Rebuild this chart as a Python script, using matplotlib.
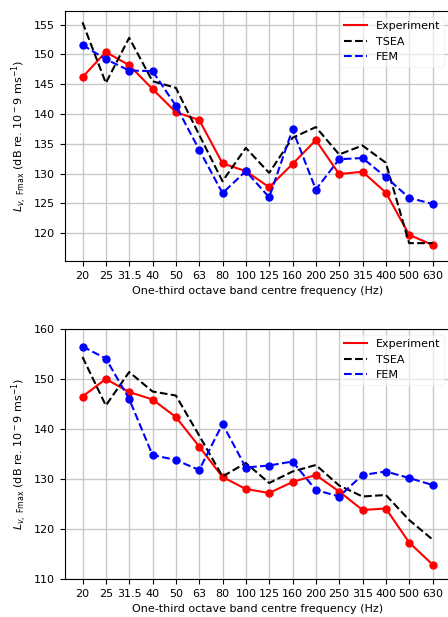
import numpy as np
import matplotlib
matplotlib.use("Agg")
import matplotlib.pyplot as plt

plt.rcParams['font.size'] = 8

bands = ['20', '25', '31.5', '40', '50', '63', '80', '100', '125', '160',
         '200', '250', '315', '400', '500', '630']

# top panel
exp_a = [146.2, 150.4, 148.2, 144.2, 140.3, 139.0, 131.7, 130.4, 127.7, 131.6,
         135.6, 129.9, 130.3, 126.8, 119.7, 118.0]
tsea_a = [155.4, 145.2, 152.8, 145.5, 144.4, 136.5, 128.7, 134.3, 130.1, 136.0,
          137.8, 133.2, 134.7, 131.8, 118.3, 118.3]
fem_a = [151.6, 149.2, 147.3, 147.2, 141.4, 134.0, 126.7, 130.4, 126.0, 137.4,
         127.3, 132.4, 132.6, 129.4, 125.9, 124.9]

# bottom panel
exp_b = [146.5, 150.0, 147.4, 145.9, 142.4, 136.5, 130.4, 128.0, 127.2, 129.4,
         130.8, 127.5, 123.8, 124.1, 117.3, 112.9]
tsea_b = [154.4, 144.7, 151.4, 147.5, 146.7, 138.7, 130.5, 133.2, 129.2, 131.5,
          132.8, 128.7, 126.5, 126.8, 121.8, 117.9]
fem_b = [156.5, 154.1, 146.0, 134.8, 133.8, 131.8, 141.0, 132.3, 132.7, 133.5,
         127.8, 126.5, 130.8, 131.5, 130.2, 128.8]

x = np.arange(len(bands))
ylab = r'$L_{v,\ \mathrm{Fmax}}$ (dB re. $10^-9$ ms$^{-1}$)'

fig = plt.figure(figsize=(4.48, 6.17), dpi=100)
ax1 = fig.add_axes([65/448, 1-261/617, 385/448, 250/617])
ax2 = fig.add_axes([65/448, 1-579/617, 385/448, 250/617])


def panel(ax, e, t, f):
    ax.plot(x, e, 'r-', lw=1.5, label='Experiment')
    ax.plot(x, e, 'ro', ms=5)
    ax.plot(x, t, 'k--', lw=1.5, label='TSEA')
    ax.plot(x, f, 'b--', lw=1.5, label='FEM')
    ax.plot(x, f, 'bo', ms=5)
    ax.set_xticks(x)
    ax.set_xticklabels(bands)
    ax.set_xlim(-0.75, 15.75)
    ax.grid(True, color='#c8c8c8', lw=1)
    ax.set_axisbelow(True)
    ax.set_xlabel('One-third octave band centre frequency (Hz)')
    ax.set_ylabel(ylab)
    leg = ax.legend(loc='upper right', framealpha=0.6)
    leg.get_frame().set_edgecolor('#eeeeee')


panel(ax1, exp_a, tsea_a, fem_a)
ax1.set_ylim(115.3, 157.3)
ax1.set_yticks([120, 125, 130, 135, 140, 145, 150, 155])

panel(ax2, exp_b, tsea_b, fem_b)
ax2.set_ylim(110, 160)
ax2.set_yticks([110, 120, 130, 140, 150, 160])

fig.savefig('out.png', dpi=100)
